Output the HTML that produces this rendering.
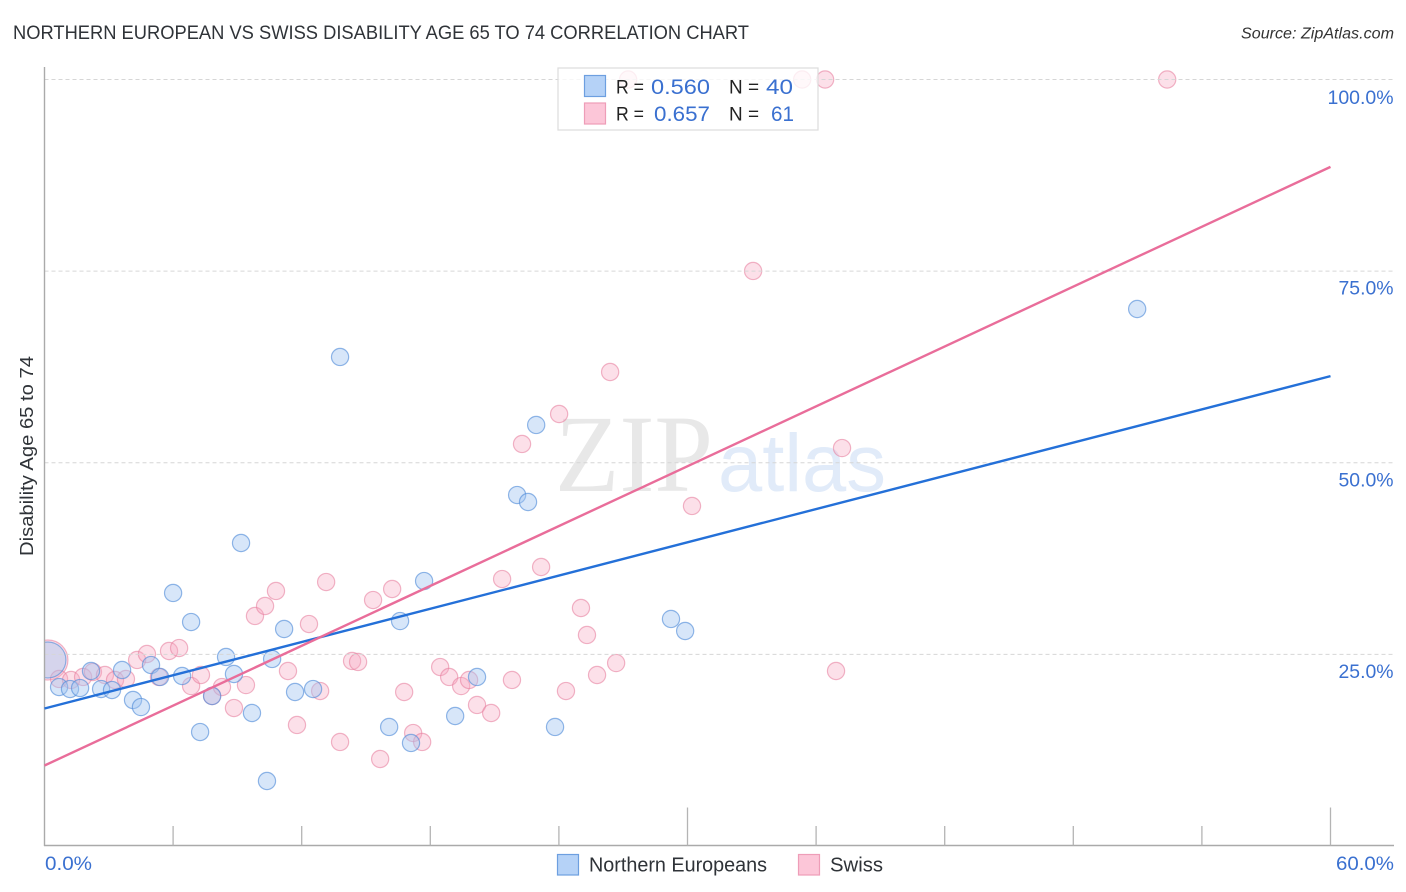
<!DOCTYPE html>
<html lang="en">
<head>
<meta charset="utf-8">
<title>Northern European vs Swiss Disability Age 65 to 74 Correlation Chart</title>
<style>
html,body{margin:0;padding:0;background:#fff;}
svg{display:block;}
text{font-family:"Liberation Sans",sans-serif;}
</style>
</head>
<body>
<svg id="chart" xmlns="http://www.w3.org/2000/svg" width="1406" height="892" viewBox="0 0 1406 892">
  <defs>
    <clipPath id="plot-clip"><rect x="44" y="40" width="1360" height="806"/></clipPath>
  </defs>
  <text x="13" y="39" font-size="19.5" fill="#2f3338" textLength="736" lengthAdjust="spacingAndGlyphs">NORTHERN EUROPEAN VS SWISS DISABILITY AGE 65 TO 74 CORRELATION CHART</text>
  <text x="1394" y="38.5" font-size="15.5" font-style="italic" fill="#333" text-anchor="end" textLength="153" lengthAdjust="spacingAndGlyphs">Source: ZipAtlas.com</text>

  <g>
    <text x="555" y="491" style="font-family:'Liberation Serif',serif" font-size="110" fill="#e8e8e8" textLength="158" lengthAdjust="spacingAndGlyphs">ZIP</text>
    <text x="718" y="491" font-size="82" fill="#e1ebf9" textLength="168" lengthAdjust="spacingAndGlyphs">atlas</text>
  </g>

  <g id="points" clip-path="url(#plot-clip)"></g>
  <g id="grid"></g>
  <rect x="0" y="600" width="44" height="120" fill="#fff"/>
  <g id="axes"></g>
  <g id="trends"></g>
  <g id="labels"></g>

  <text transform="translate(33,456) rotate(-90)" font-size="18.5" fill="#2f3338" text-anchor="middle" textLength="200" lengthAdjust="spacingAndGlyphs">Disability Age 65 to 74</text>

  <g>
    <rect x="558" y="68" width="260" height="62" fill="#fff" fill-opacity="0.78" stroke="#dcdcdc" stroke-width="1.2"/>
    <rect x="584.5" y="75.5" width="21" height="21" fill="#b5d2f7" stroke="#6d9fe0" stroke-width="1.2"/>
    <rect x="584.5" y="103" width="21" height="21" fill="#fcc6d8" stroke="#ee9db8" stroke-width="1.2"/>
    <text x="616" y="93.5" font-size="19.5" fill="#222" textLength="28" lengthAdjust="spacingAndGlyphs">R =</text>
    <text x="651" y="94" font-size="21.5" fill="#3a70d0" textLength="59" lengthAdjust="spacingAndGlyphs">0.560</text>
    <text x="729" y="93.5" font-size="19.5" fill="#222" textLength="30" lengthAdjust="spacingAndGlyphs">N =</text>
    <text x="766" y="94" font-size="21.5" fill="#3a70d0" textLength="27" lengthAdjust="spacingAndGlyphs">40</text>
    <text x="616" y="120.5" font-size="19.5" fill="#222" textLength="28" lengthAdjust="spacingAndGlyphs">R =</text>
    <text x="654" y="121" font-size="21.5" fill="#3a70d0" textLength="56" lengthAdjust="spacingAndGlyphs">0.657</text>
    <text x="729" y="120.5" font-size="19.5" fill="#222" textLength="30" lengthAdjust="spacingAndGlyphs">N =</text>
    <text x="771" y="121" font-size="21.5" fill="#3a70d0" textLength="23" lengthAdjust="spacingAndGlyphs">61</text>
  </g>

  <g>
    <rect x="557.5" y="854.5" width="21" height="20.5" fill="#b5d2f7" stroke="#6d9fe0" stroke-width="1.2"/>
    <text x="589" y="871.5" font-size="20" fill="#2f3338" textLength="178" lengthAdjust="spacingAndGlyphs">Northern Europeans</text>
    <rect x="798.5" y="854.5" width="21" height="20.5" fill="#fcc6d8" stroke="#ee9db8" stroke-width="1.2"/>
    <text x="830" y="871.5" font-size="20" fill="#2f3338" textLength="53" lengthAdjust="spacingAndGlyphs">Swiss</text>
  </g>
</svg>
<script>
const northernX = [0.16,0.68,1.19,1.66,2.17,2.64,3.15,3.62,4.13,4.50,4.97,5.39,6.00,6.42,6.84,7.26,7.82,8.47,8.84,9.17,9.68,10.38,10.62,11.18,11.69,12.53,13.79,16.08,16.59,17.10,17.71,19.16,20.18,22.05,22.56,22.94,23.82,29.23,29.89,50.98];
const northernY = [24.27,20.74,20.48,20.61,22.83,20.48,20.35,22.96,19.05,18.13,23.61,22.05,33.01,22.18,29.22,14.87,19.57,24.66,22.44,39.53,17.35,8.48,24.40,28.31,20.09,20.48,63.80,15.53,29.35,13.44,34.57,16.96,22.05,45.79,44.88,54.93,15.53,29.62,28.05,70.06];
const swissX = [0.16,0.68,1.24,1.80,2.26,2.82,3.29,3.80,4.32,4.78,5.34,5.81,6.28,6.84,7.30,7.82,8.28,8.84,9.40,9.82,10.29,10.80,11.36,11.78,12.34,12.86,13.14,13.79,14.35,14.63,15.33,15.66,16.22,16.78,17.20,17.62,18.46,18.88,19.44,19.81,20.18,20.84,21.35,21.81,22.28,23.17,24.01,24.33,25.03,25.31,25.78,26.39,26.67,27.23,30.21,33.06,35.35,36.42,36.93,37.21,52.38];
const swissY = [24.27,21.79,21.66,22.05,22.70,22.31,21.66,21.79,24.27,25.05,22.05,25.44,25.83,20.87,22.31,19.57,20.74,18.00,21.00,30.01,31.31,33.27,22.83,15.79,28.96,20.22,34.44,13.57,24.14,24.01,32.09,11.35,33.53,20.09,14.74,13.57,23.35,22.05,20.87,21.66,18.40,17.35,34.83,21.66,52.45,36.40,56.36,20.22,31.05,27.53,22.31,61.84,23.87,100,44.36,75.02,100,100,22.83,51.92,100];
const northernTrendEnds = [17.94,61.3];
const swissTrendEnds = [10.5,88.6];
const yTickValues = [25,50,75,100];
const yTickLabels = ["25.0%","50.0%","75.0%","100.0%"];
const xTickValues = [0,6,12,18,24,30,36,42,48,54,60];
const xEndLabels = ["0.0%","60.0%"];

const SVGNS = "http://www.w3.org/2000/svg";
function sx(v){ return 44.5 + v * (1330.5 - 44.5) / 60; }
function sy(v){ return 846 - v * (846 - 79.5) / 100; }
function make(tag, attrs, parent){
  const el = document.createElementNS(SVGNS, tag);
  for (const k in attrs) el.setAttribute(k, attrs[k]);
  parent.appendChild(el);
  return el;
}
const gridG = document.getElementById("grid");
const axesG = document.getElementById("axes");
const pointsG = document.getElementById("points");
const trendsG = document.getElementById("trends");
const labelsG = document.getElementById("labels");

yTickValues.forEach(function(v, i){
  const ln = make("line", {x1:44.5, x2:1394, y1:sy(v), y2:sy(v), stroke:"#d6d6d6", "stroke-width":1, "stroke-dasharray":"4 3"}, gridG);
  
  
  const t = make("text", {x:1393.5, y:sy(v) + (v === 100 ? 24.5 : 23.5), "font-size":19.5, fill:"#3a70d0", "text-anchor":"end", textLength: v === 100 ? 66 : 55, lengthAdjust:"spacingAndGlyphs"}, labelsG);
  t.textContent = yTickLabels[i];
  
  
});

const yAxis = make("line", {x1:44.5, x2:44.5, y1:67, y2:846, stroke:"#aaaaaa", "stroke-width":1.4}, axesG);


const xAxis = make("line", {x1:44, x2:1394, y1:845.5, y2:845.5, stroke:"#aaaaaa", "stroke-width":1.4}, axesG);


xTickValues.forEach(function(v){
  if (v === 0) return;
  const tall = v === 30 || v === 60;
  const tk = make("line", {x1:sx(v), x2:sx(v), y1: tall ? 807.5 : 826, y2:845.5, stroke:"#b4b4b4", "stroke-width":1.3}, axesG);
  
  
});

const x0Label = make("text", {x:45, y:870, "font-size":19.5, fill:"#3a70d0", textLength:47, lengthAdjust:"spacingAndGlyphs"}, labelsG);
x0Label.textContent = xEndLabels[0];


const x1Label = make("text", {x:1394, y:870, "font-size":19.5, fill:"#3a70d0", "text-anchor":"end", textLength:58, lengthAdjust:"spacingAndGlyphs"}, labelsG);
x1Label.textContent = xEndLabels[1];



swissX.forEach(function(x, i){
  const c = make("circle", {cx:sx(x), cy:sy(swissY[i]), r: i === 0 ? 20 : 8.6, fill:"#f8a8c2", "fill-opacity":0.36, stroke:"#e77f9f", "stroke-opacity":0.58, "stroke-width":1.2}, pointsG);
  
  
});
northernX.forEach(function(x, i){
  const c = make("circle", {cx:sx(x), cy:sy(northernY[i]), r: i === 0 ? 18 : 8.6, fill:"#a3c6f2", "fill-opacity":0.43, stroke:"#4f8ad8", "stroke-opacity":0.62, "stroke-width":1.2}, pointsG);
  
  
});

const blueLine = make("line", {x1:sx(0), y1:sy(northernTrendEnds[0]), x2:sx(60), y2:sy(northernTrendEnds[1]), stroke:"#2470d8", "stroke-width":2.4}, trendsG);


const pinkLine = make("line", {x1:sx(0), y1:sy(swissTrendEnds[0]), x2:sx(60), y2:sy(swissTrendEnds[1]), stroke:"#e96d9a", "stroke-width":2.4}, trendsG);


</script>
</body>
</html>
